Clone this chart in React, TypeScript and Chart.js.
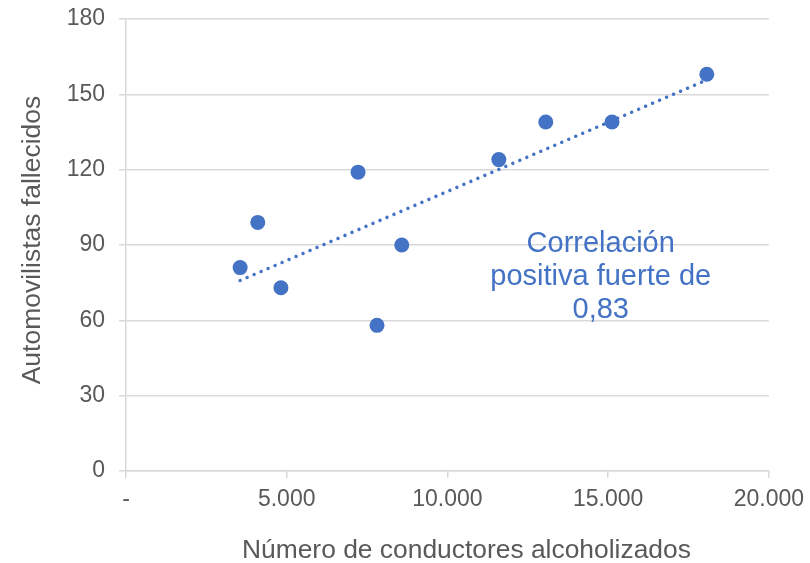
import { useEffect, useRef } from "react";
import { Chart, registerables } from "chart.js";

Chart.register(...registerables);

// Data
const conductores = [3550, 4100, 4820, 7220, 7810, 8580, 11600, 13060, 15120, 18070];
const fallecidos = [81, 99, 73, 119, 58, 90, 124, 139, 139, 158];

const xMin = 0;
const xMax = 20000;
const xStep = 5000;
const yMin = 0;
const yMax = 180;
const yStep = 30;

const xTitle = "Número de conductores alcoholizados";
const yTitle = "Automovilistas fallecidos";
const annotationLines = ["Correlación", "positiva fuerte de", "0,83"];
const annotationX = 14770;
const annotationY = 87.2;

const BLUE = "#4472C4";
const TEXT = "#595959";
const GRID = "#d9d9d9";
const FONT = '"Liberation Sans", Arial, sans-serif';

function linearTrend(xs: number[], ys: number[]) {
  const n = xs.length;
  const mx = xs.reduce((a, b) => a + b, 0) / n;
  const my = ys.reduce((a, b) => a + b, 0) / n;
  let sxy = 0;
  let sxx = 0;
  for (let i = 0; i < n; i++) {
    sxy += (xs[i] - mx) * (ys[i] - my);
    sxx += (xs[i] - mx) * (xs[i] - mx);
  }
  const slope = sxy / sxx;
  const intercept = my - slope * mx;
  const x0 = Math.min(...xs);
  const x1 = Math.max(...xs);
  return [
    { x: x0, y: intercept + slope * x0 },
    { x: x1, y: intercept + slope * x1 },
  ];
}

function fmtThousands(v: number) {
  if (v === 0) return "-";
  return v.toLocaleString("de-DE");
}

const textPlugin = {
  id: "textOverlay",
  afterDatasetsDraw(chart: any) {
    const { ctx, scales, chartArea } = chart;
    ctx.save();
    // annotation
    const px = scales.x.getPixelForValue(annotationX);
    const py = scales.y.getPixelForValue(annotationY);
    ctx.font = `29px ${FONT}`;
    ctx.fillStyle = BLUE;
    ctx.textAlign = "center";
    ctx.textBaseline = "alphabetic";
    annotationLines.forEach((line, i) => {
      ctx.fillText(line, px, py + i * 33);
    });
    // x axis title
    ctx.fillStyle = TEXT;
    ctx.font = `26.4px ${FONT}`;
    ctx.textBaseline = "middle";
    const cx = (chartArea.left + chartArea.right) / 2 + 19;
    ctx.fillText(xTitle, cx, chart.height - 12);
    // y axis title
    ctx.font = `26.5px ${FONT}`;
    const cy = (chartArea.top + chartArea.bottom) / 2 - 5;
    ctx.translate(33, cy);
    ctx.rotate(-Math.PI / 2);
    ctx.fillText(yTitle, 0, 0);
    ctx.restore();
  },
};

export default function App() {
  const ref = useRef<HTMLCanvasElement | null>(null);

  useEffect(() => {
    document.body.style.margin = "0";
    if (!ref.current) return;
    const points = conductores.map((x, i) => ({ x, y: fallecidos[i] }));
    const trend = linearTrend(conductores, fallecidos);
    const chart = new Chart(ref.current, {
      type: "scatter",
      data: {
        datasets: [
          {
            type: "line",
            data: trend,
            borderColor: BLUE,
            borderWidth: 3.5,
            borderDash: [0.01, 7.6],
            borderCapStyle: "round",
            pointRadius: 0,
            fill: false,
            order: 2,
          } as any,
          {
            data: points,
            backgroundColor: BLUE,
            borderColor: BLUE,
            borderWidth: 0,
            pointRadius: 7.5,
            pointHoverRadius: 7.5,
            order: 1,
          },
        ],
      },
      options: {
        responsive: false,
        animation: false,
        devicePixelRatio: 1,
        layout: { padding: 0 },
        plugins: {
          legend: { display: false },
          tooltip: { enabled: false },
        },
        scales: {
          x: {
            type: "linear",
            min: xMin,
            max: xMax,
            afterFit: (s: any) => {
              s.height = 92;
            },
            ticks: {
              stepSize: xStep,
              color: TEXT,
              font: { family: FONT, size: 23, lineHeight: "32px" },
              padding: 6,
              maxRotation: 0,
              callback: (v: any) => fmtThousands(Number(v)),
            },
            grid: {
              drawOnChartArea: false,
              color: GRID,
              lineWidth: 1.5,
              tickLength: 7,
            },
            border: { display: true, color: GRID, width: 1.5 },
            title: { display: false },
          },
          y: {
            type: "linear",
            min: yMin,
            max: yMax,
            afterFit: (s: any) => {
              s.width = 126;
            },
            ticks: {
              stepSize: yStep,
              color: TEXT,
              font: { family: FONT, size: 23, lineHeight: "10px" },
              padding: 14,
            },
            grid: {
              color: GRID,
              lineWidth: 1.5,
              tickLength: 7,
            },
            border: { display: true, color: GRID, width: 1.5 },
            title: { display: false },
          },
        },
      },
      plugins: [textPlugin],
    } as any);
    return () => chart.destroy();
  }, []);

  return (
    <div style={{ position: "absolute", left: 0, top: 0, width: 810, height: 563 }}>
      <canvas ref={ref} width={810} height={563} />
    </div>
  );
}
